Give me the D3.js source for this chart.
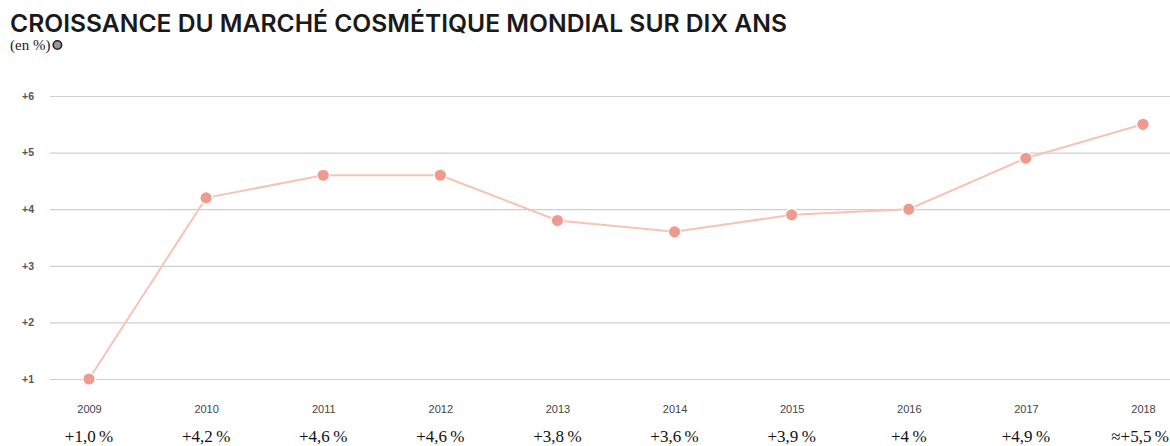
<!DOCTYPE html>
<html>
<head>
<meta charset="utf-8">
<script src="https://cdn.jsdelivr.net/npm/d3@7"></script>
<style>
  html, body { margin: 0; padding: 0; background: #fff; }
  svg { display: block; }
</style>
</head>
<body>
<svg id="chart" width="1170" height="446"></svg>
<script>
// Annual growth of the global cosmetics market (in %)
const years = ["2009", "2010", "2011", "2012", "2013", "2014", "2015", "2016", "2017", "2018"];
const growth = [1.0, 4.2, 4.6, 4.6, 3.8, 3.6, 3.9, 4.0, 4.9, 5.5];
const valueLabels = ["+1,0\u202f%", "+4,2\u202f%", "+4,6\u202f%", "+4,6\u202f%", "+3,8\u202f%", "+3,6\u202f%", "+3,9\u202f%", "+4\u202f%", "+4,9\u202f%", "\u2248+5,5\u202f%"];
const yTicks = [1, 2, 3, 4, 5, 6];
const yTickLabels = ["+1", "+2", "+3", "+4", "+5", "+6"];

const svg = d3.select("#chart");
const W = 1170, H = 446;

// Title and unit
svg.append("text")
  .attr("x", 10).attr("y", 32)
  .attr("font-family", "Inter, 'Liberation Sans', sans-serif")
  .attr("font-weight", 600)
  .attr("font-size", 24)
  .attr("fill", "#1a1a1a")
  .attr("textLength", 777)
  .attr("lengthAdjust", "spacingAndGlyphs")
  .text("CROISSANCE DU MARCHÉ COSMÉTIQUE MONDIAL SUR DIX ANS");

const sub = svg.append("text")
  .attr("x", 10).attr("y", 50)
  .attr("font-family", "'Liberation Serif', 'DejaVu Serif', serif")
  .attr("font-size", 15)
  .attr("fill", "#222")
  .text("(en %)");
const subW = sub.node().getComputedTextLength();
svg.append("circle")
  .attr("cx", 10 + subW + 7).attr("cy", 45).attr("r", 4.2)
  .attr("fill", "#999").attr("stroke", "#222").attr("stroke-width", 1.6);

// Scales
const x = d3.scalePoint().domain(years).range([89, 1143]);
const y = d3.scaleLinear().domain([1, 6]).range([379, 96]);

// Horizontal grid + left labels
const yAxis = d3.axisLeft(y)
  .tickValues(yTicks)
  .tickSize(-(W - 50))
  .tickFormat((d, i) => yTickLabels[i]);

const gy = svg.append("g")
  .attr("transform", "translate(50,0)")
  .call(yAxis);
gy.select(".domain").remove();
gy.selectAll(".tick line").attr("stroke", "#cfcfcf").attr("stroke-width", 1.2);
gy.selectAll(".tick text")
  .attr("x", -28)
  .attr("text-anchor", "start")
  .attr("font-family", "'Liberation Sans', Arial, sans-serif")
  .attr("font-weight", "bold")
  .attr("font-size", 10.5)
  .attr("fill", "#555");

// Bottom: years and stated growth values
const xAxis = d3.axisBottom(x).tickSize(0).tickPadding(0);
const gx = svg.append("g")
  .attr("transform", "translate(0,404)")
  .call(xAxis);
gx.select(".domain").remove();
gx.selectAll(".tick text")
  .attr("dy", 9)
  .attr("font-family", "'Liberation Sans', Arial, sans-serif")
  .attr("font-size", 11)
  .attr("fill", "#444");

const last = years.length - 1;
svg.append("g")
  .selectAll("text")
  .data(years)
  .join("text")
  .attr("x", (d, i) => i === last ? W - 1 : x(d))
  .attr("y", 442)
  .attr("text-anchor", (d, i) => i === last ? "end" : "middle")
  .attr("font-family", "'Liberation Serif', 'DejaVu Serif', serif")
  .attr("font-size", 17)
  .attr("fill", "#111")
  .text((d, i) => valueLabels[i]);

// Line and points
const pts = years.map((yr, i) => ({ yr, v: growth[i] }));
svg.append("path")
  .datum(pts)
  .attr("fill", "none")
  .attr("stroke", "#f7c3b5")
  .attr("stroke-width", 2)
  .attr("d", d3.line().x(d => x(d.yr)).y(d => y(d.v)));

svg.append("g")
  .selectAll("circle")
  .data(pts)
  .join("circle")
  .attr("cx", d => x(d.yr))
  .attr("cy", d => y(d.v))
  .attr("r", 6.2)
  .attr("fill", "#ee9a8f")
  .attr("stroke", "#fff")
  .attr("stroke-width", 1.2);
</script>
</body>
</html>
